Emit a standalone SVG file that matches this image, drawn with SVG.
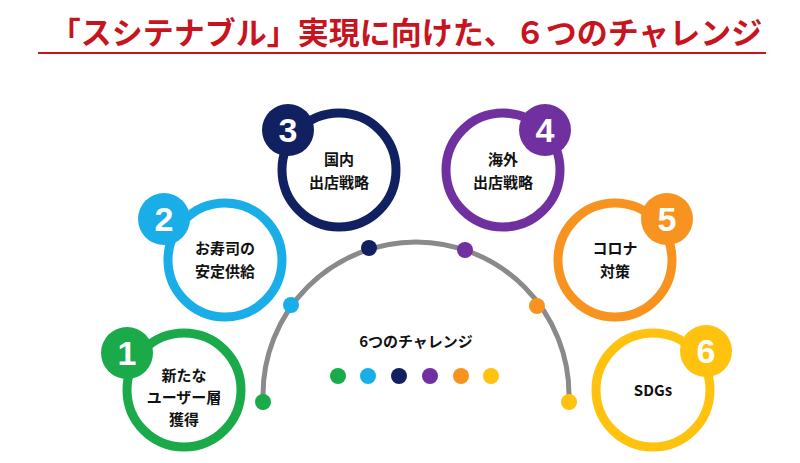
<svg xmlns="http://www.w3.org/2000/svg" width="800" height="463" viewBox="0 0 800 463">
<style>
.ring{fill:#fff;stroke-width:9}
.num{font-family:"Liberation Sans",Arial,sans-serif;font-weight:bold;font-size:34px;fill:#fff;text-anchor:middle}
.lbl{font-family:"Noto Sans CJK JP","Liberation Sans",sans-serif;font-weight:bold;font-size:15px;fill:#111;text-anchor:middle}
</style>
<rect width="800" height="463" fill="#fff"/>
<text x="406" y="44" font-family="Noto Sans CJK JP,sans-serif" font-weight="bold" font-size="31" fill="#c8141e" text-anchor="middle">「スシテナブル」実現に向けた、６つのチャレンジ</text>
<line x1="38" y1="53" x2="766" y2="53" stroke="#c8141e" stroke-width="2"/>
<g id="connectors">
<path d="M263,402 L263,395 A153,153 0 0 1 569,395 L569,402" fill="none" stroke="#8a8a8a" stroke-width="5"/>
<circle cx="263" cy="402" r="8" fill="#1aaa4a"/>
<circle cx="291" cy="305" r="8" fill="#1aaee8"/>
<circle cx="369" cy="248" r="8" fill="#102060"/>
<circle cx="465" cy="250" r="8" fill="#7030a0"/>
<circle cx="537" cy="306" r="8" fill="#f7931e"/>
<circle cx="569" cy="402" r="8" fill="#ffc20e"/>
</g>
<g id="center">
<text x="416" y="347" class="lbl" font-size="19">6つのチャレンジ</text>
<circle cx="338" cy="376" r="8" fill="#1aaa4a"/>
<circle cx="368" cy="376" r="8" fill="#1aaee8"/>
<circle cx="399" cy="376" r="8" fill="#102060"/>
<circle cx="430" cy="376" r="8" fill="#7030a0"/>
<circle cx="461" cy="376" r="8" fill="#f7931e"/>
<circle cx="491" cy="376" r="8" fill="#ffc20e"/>
</g>
<g id="n1">
<circle cx="184" cy="390" r="57" class="ring" stroke="#1aaa4a"/>
<circle cx="127" cy="353" r="26" fill="#1aaa4a"/>
<text x="127" y="365" class="num">1</text>
<text x="184" y="381" class="lbl">新たな</text>
<text x="184" y="403" class="lbl">ユーザー層</text>
<text x="184" y="425" class="lbl">獲得</text>
</g>
<g id="n2">
<circle cx="225" cy="260" r="57" class="ring" stroke="#1aaee8"/>
<circle cx="164" cy="219" r="26" fill="#1aaee8"/>
<text x="164" y="231" class="num">2</text>
<text x="225" y="254" class="lbl">お寿司の</text>
<text x="225" y="277" class="lbl">安定供給</text>
</g>
<g id="n3">
<circle cx="339" cy="170" r="57" class="ring" stroke="#102060"/>
<circle cx="288" cy="130" r="26" fill="#102060"/>
<text x="288" y="142" class="num">3</text>
<text x="339" y="165" class="lbl">国内</text>
<text x="339" y="188" class="lbl">出店戦略</text>
</g>
<g id="n4">
<circle cx="503" cy="170" r="57" class="ring" stroke="#7030a0"/>
<circle cx="545" cy="130" r="26" fill="#7030a0"/>
<text x="545" y="142" class="num">4</text>
<text x="503" y="165" class="lbl">海外</text>
<text x="503" y="188" class="lbl">出店戦略</text>
</g>
<g id="n5">
<circle cx="615" cy="260" r="57" class="ring" stroke="#f7931e"/>
<circle cx="667" cy="219" r="26" fill="#f7931e"/>
<text x="667" y="231" class="num">5</text>
<text x="615" y="254" class="lbl">コロナ</text>
<text x="615" y="277" class="lbl">対策</text>
</g>
<g id="n6">
<circle cx="653" cy="390" r="57" class="ring" stroke="#ffc20e"/>
<circle cx="706" cy="351" r="26" fill="#ffc20e"/>
<text x="706" y="363" class="num">6</text>
<text x="653" y="396" class="lbl">SDGs</text>
</g>
</svg>
